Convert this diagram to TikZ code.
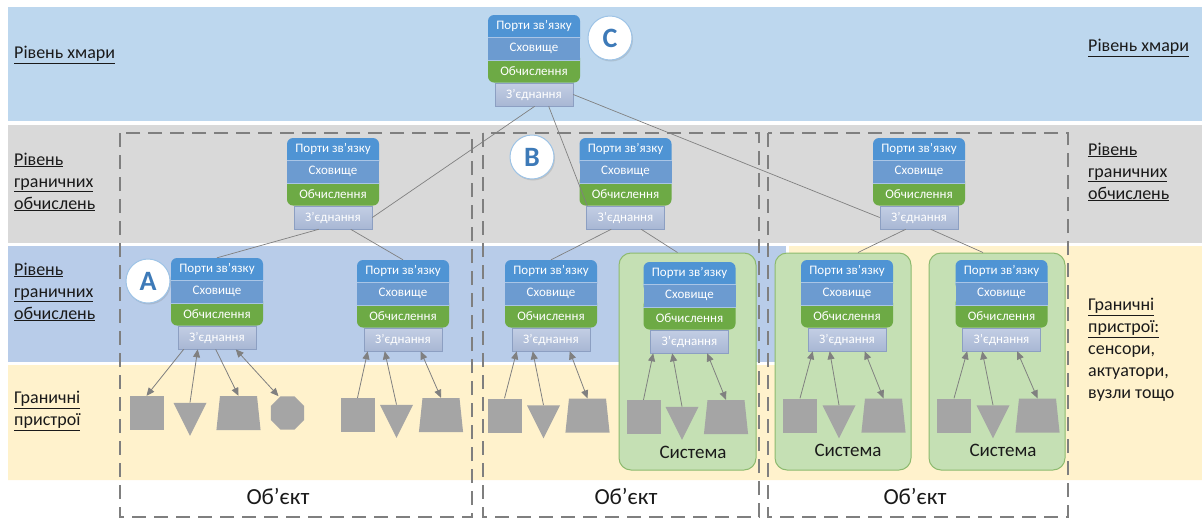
\documentclass[tikz,border=0pt]{standalone}
\usepackage{fontspec}
\setmainfont{Carlito}
\usepackage{tikz}
\usetikzlibrary{shapes.geometric,arrows.meta,shadows}

\definecolor{cloudbg}{HTML}{BDD7EE}
\definecolor{edgebg}{HTML}{D9D9D9}
\definecolor{fogbg}{HTML}{B8CCE9}
\definecolor{devbg}{HTML}{FFF2CC}
\definecolor{portblue}{HTML}{4F94D4}
\definecolor{storeblue}{HTML}{6C9BD0}
\definecolor{storeline}{HTML}{A9C5E6}
\definecolor{compgreen}{HTML}{6DAA45}
\definecolor{conntop}{HTML}{C3CEE4}
\definecolor{connbot}{HTML}{A8B7D4}
\definecolor{connline}{HTML}{8C9FC2}
\definecolor{devgray}{HTML}{A5A5A5}
\definecolor{sysfill}{HTML}{C5E0B4}
\definecolor{sysline}{HTML}{8DBA6E}
\definecolor{dashgray}{HTML}{7F7F7F}
\definecolor{linkgray}{HTML}{808080}
\definecolor{letterblue}{HTML}{3D7AB8}
\definecolor{letterring}{HTML}{9DC3E6}
\definecolor{labelblack}{HTML}{1A1A1A}

% one stack: name, centre x, top y (measured downwards)
\newcommand{\mkstack}[3]{%
  \node[conn] (#1-c) at (#2,-#3-79.5) {З’єднання};
  \fill[portblue, rounded corners=6pt] (#2-46,-#3) rectangle (#2+46,-#3-30);
  \fill[compgreen, rounded corners=6pt] (#2-46,-#3-37) rectangle (#2+46,-#3-67.5);
  \node[row, fill=storeblue] (#1-s) at (#2,-#3-33.75) {Сховище};
  \draw[storeline, line width=0.6pt] (#1-s.north west) -- (#1-s.north east)
    (#1-s.south west) -- (#1-s.south east);
  \node[row] (#1-p) at (#2,-#3-11.25) {Порти зв’язку};
  \node[row] (#1-o) at (#2,-#3-56.25) {Обчислення};
}

\begin{document}
\begin{tikzpicture}[x=1pt, y=1pt,
    >={Triangle[length=8pt,width=7pt]},
    row/.style={rectangle, minimum width=92pt, minimum height=22.5pt, inner sep=0pt,
      text=white, font=\fontsize{13}{15}\selectfont},
    conn/.style={rectangle, minimum width=78pt, minimum height=23pt, inner sep=0pt,
      text=white, top color=conntop, bottom color=connbot, draw=connline,
      line width=0.6pt, font=\fontsize{13}{15}\selectfont},
    lbl/.style={anchor=west, align=left, inner sep=0pt, text=labelblack,
      font=\fontsize{18}{22}\selectfont},
    objbox/.style={draw=dashgray, line width=2.5pt, dash pattern=on 14pt off 8pt},
    objtxt/.style={inner sep=0pt, text=labelblack, font=\fontsize{23}{25}\selectfont},
    sysbox/.style={rectangle, rounded corners=12pt, fill=sysfill, draw=sysline,
      line width=1pt, inner sep=0pt},
    systxt/.style={inner sep=0pt, text=labelblack, font=\fontsize{19}{21}\selectfont},
    letter/.style={circle, minimum size=44pt, inner sep=0pt, fill=white,
      draw=letterring, line width=1pt, text=letterblue,
      font=\fontsize{28}{30}\selectfont\bfseries,
      drop shadow={shadow xshift=1pt, shadow yshift=-1.5pt, opacity=0.25}},
    link/.style={draw=linkgray, line width=0.7pt},
    sig/.style={draw, linkgray, line width=0.8pt},
    sq/.style={rectangle, fill=devgray, minimum size=34pt, inner sep=0pt},
    tri/.style={isosceles triangle, isosceles triangle stretches, shape border rotate=-90,
      fill=devgray, minimum width=33pt, minimum height=33pt, inner sep=0pt},
    trap/.style={trapezium, trapezium left angle=84, trapezium right angle=84,
      inner xsep=18.5pt, inner ysep=17pt, fill=devgray},
    oct/.style={regular polygon, regular polygon sides=8, minimum size=36pt,
      fill=devgray, inner sep=0pt}
  ]
  \useasboundingbox (0,0) rectangle (1202,-520);

  % layers
  \fill[cloudbg] (8,-7) rectangle (1202,-121);
  \fill[edgebg] (8,-125) rectangle (1202,-243);
  \fill[fogbg] (8,-246) rectangle (786,-362);
  \fill[devbg] (8,-365) -- (789,-365) -- (789,-246) -- (1202,-246) -- (1202,-480) -- (8,-480) -- cycle;

  % layer labels
  \node[lbl] (lcloud) at (14,-55) {\underline{Рівень хмари}};
  \node[lbl] (lfog1) at (14,-182) {\underline{Рівень}\\\underline{граничних}\\\underline{обчислень}};
  \node[lbl] (lfog2) at (14,-292) {\underline{Рівень}\\\underline{граничних}\\\underline{обчислень}};
  \node[lbl] (ldev) at (14,-411) {\underline{Граничні}\\\underline{пристрої}};
  \node[lbl] (rcloud) at (1088,-48) {\underline{Рівень хмари}};
  \node[lbl] (rfog) at (1088,-172) {\underline{Рівень}\\\underline{граничних}\\\underline{обчислень}};
  \node[lbl] (rdev) at (1088,-350) {\underline{Граничні}\\\underline{пристрої:}\\сенсори,\\актуатори,\\вузли тощо};

  % objects
  \draw[objbox] (120,-133) rectangle (472,-517);
  \draw[objbox] (483,-133) rectangle (759,-517);
  \draw[objbox] (768,-133) rectangle (1068,-517);
  \node[objtxt] (obj1) at (278,-496) {Об’єкт};
  \node[objtxt] (obj2) at (626,-496) {Об’єкт};
  \node[objtxt] (obj3) at (915,-496) {Об’єкт};

  % systems
  \node[sysbox, minimum width=137pt, minimum height=217pt] (s1) at (687.5,-361.5) {};
  \node[sysbox, minimum width=136pt, minimum height=217pt] (s2) at (843,-361.5) {};
  \node[sysbox, minimum width=136pt, minimum height=217pt] (s3) at (997,-361.5) {};
  \node[systxt] (s1-t) at (693,-452) {Система};
  \node[systxt] (s2-t) at (848,-450) {Система};
  \node[systxt] (s3-t) at (1003,-450) {Система};

  % stacks
  \mkstack{cl}{534}{15}
  \mkstack{fg1}{333}{138}
  \mkstack{fg2}{625.5}{138}
  \mkstack{fg3}{919}{138}
  \mkstack{ed1}{217}{258}
  \mkstack{ed2}{403}{260}
  \mkstack{ed3}{551}{260}
  \mkstack{ed4}{689.5}{262}
  \mkstack{ed5}{847}{260}
  \mkstack{ed6}{1001.5}{260}

  % links between levels
  \path[link] ([xshift=40pt]cl-c.south west) edge (fg1-c.east);
  \path[link] ([xshift=54pt]cl-c.south west) edge ([xshift=1pt]fg2-c.north west);
  \path[link] (cl-c.east) edge (fg3-c.west);
  \path[link] ([xshift=25pt]fg1-c.south west) edge (ed1-p.north);
  \path[link] ([xshift=57pt]fg1-c.south west) edge (ed2-p.north);
  \path[link] ([xshift=25pt]fg2-c.south west) edge (ed3-p.north);
  \path[link] ([xshift=55pt]fg2-c.south west) edge ([xshift=-10pt]s1.north);
  \path[link] ([xshift=26pt]fg3-c.south west) edge ([xshift=15pt]s2.north);
  \path[link] ([xshift=51pt]fg3-c.south west) edge ([xshift=-14pt]s3.north);

  % devices
  \node[sq] (d1-sq) at (146.5,-413) {};
  \node[tri] (d1-tr) at (190,-413) {};
  \node[trap] (d1-tz) at (238.5,-413) {};
  \node[oct] (d1-oc) at (287.5,-413) {};
  \node[sq] (d2-sq) at (357.5,-415) {};
  \node[tri] (d2-tr) at (396.5,-415) {};
  \node[trap] (d2-tz) at (441,-415) {};
  \node[sq] (d3-sq) at (504.5,-415.5) {};
  \node[tri] (d3-tr) at (543.5,-415.5) {};
  \node[trap] (d3-tz) at (587.5,-415.5) {};
  \node[sq] (d4-sq) at (643.5,-417) {};
  \node[tri] (d4-tr) at (682,-417) {};
  \node[trap] (d4-tz) at (726,-417) {};
  \node[sq] (d5-sq) at (800,-415.5) {};
  \node[tri] (d5-tr) at (839,-415.5) {};
  \node[trap] (d5-tz) at (883.5,-415.5) {};
  \node[sq] (d6-sq) at (954,-415.5) {};
  \node[tri] (d6-tr) at (993,-415.5) {};
  \node[trap] (d6-tz) at (1037.5,-415.5) {};

  % signals
  \draw[sig, ->] ([xshift=6pt]ed1-c.south west) -- (d1-sq.north);
  \draw[sig, ->] (d1-tr.lower side) -- ([xshift=20pt]ed1-c.south west);
  \draw[sig, ->] ([xshift=38pt]ed1-c.south west) -- (d1-tz.north);
  \draw[sig, <->] ([xshift=58pt]ed1-c.south west) -- ([xshift=-9pt]d1-oc.north);

  \draw[sig, ->] (d2-sq.north) -- ([xshift=4pt]ed2-c.south west);
  \draw[sig, ->] (d2-tr.lower side) -- ([xshift=21pt]ed2-c.south west);
  \draw[sig, <->] ([xshift=57pt]ed2-c.south west) -- (d2-tz.north);

  \draw[sig, ->] (d3-sq.north) -- ([xshift=5pt]ed3-c.south west);
  \draw[sig, ->] (d3-tr.lower side) -- ([xshift=21pt]ed3-c.south west);
  \draw[sig, <->] ([xshift=58pt]ed3-c.south west) -- (d3-tz.north);

  \draw[sig, ->] (d4-sq.north) -- ([xshift=3pt]ed4-c.south west);
  \draw[sig, ->] (d4-tr.lower side) -- ([xshift=22pt]ed4-c.south west);
  \draw[sig, <->] ([xshift=57pt]ed4-c.south west) -- (d4-tz.north);

  \draw[sig, ->] (d5-sq.north) -- ([xshift=5pt]ed5-c.south west);
  \draw[sig, ->] (d5-tr.lower side) -- ([xshift=22pt]ed5-c.south west);
  \draw[sig, <->] ([xshift=57pt]ed5-c.south west) -- (d5-tz.north);

  \draw[sig, ->] (d6-sq.north) -- ([xshift=5pt]ed6-c.south west);
  \draw[sig, ->] (d6-tr.lower side) -- ([xshift=20pt]ed6-c.south west);
  \draw[sig, <->] ([xshift=55pt]ed6-c.south west) -- (d6-tz.north);

  % level markers
  \node[letter] (mA) at (148,-281) {A};
  \node[letter] (mB) at (532,-157) {B};
  \node[letter] (mC) at (610,-38) {C};
\end{tikzpicture}
\end{document}
